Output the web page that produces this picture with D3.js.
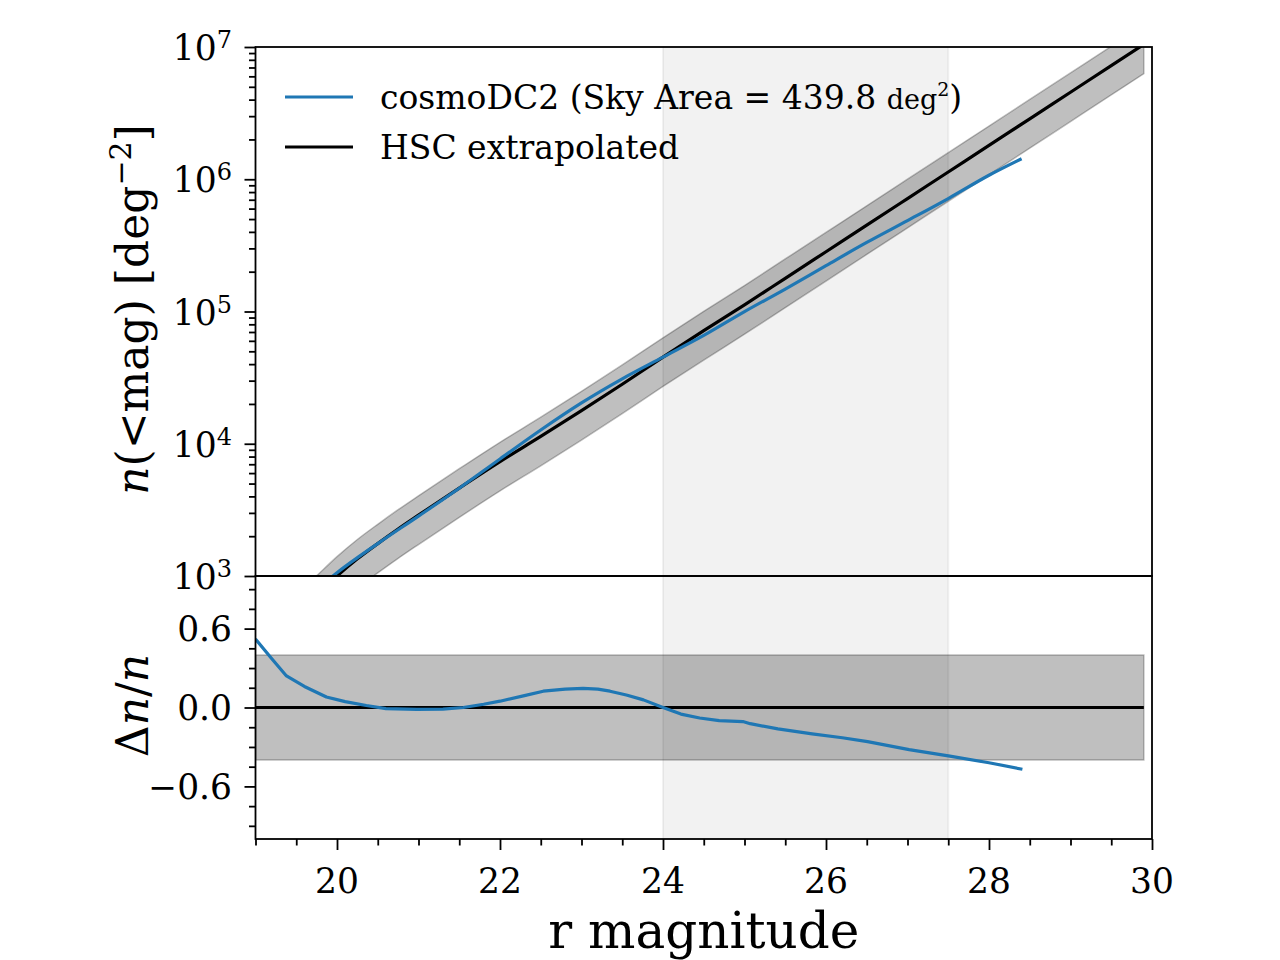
<!DOCTYPE html>
<html><head><meta charset="utf-8">
<script src="https://cdn.jsdelivr.net/npm/d3@7"></script>
<style>body{margin:0;background:#fff} text{font-family:"DejaVu Serif",serif;fill:#000}</style>
</head><body><svg id="c" width="1280" height="960"></svg>
<script>
// ---- data ----
const hscMag = [19.0,19.25,19.5,19.75,20.0,20.25,20.5,20.75,21.0,21.5,22.0,22.5,23.0,23.5,24.0,24.5,25.0,25.5,26.0,26.5,27.0,27.5,28.0,28.5,29.0,29.5,29.9];
const hscN   = [240,355,513,716,1000,1349,1758,2265,2884,4624,7328,11350,17780,28180,45190,71610,112200,178200,283100,449800,714500,1135000,1803000,2864000,4550000,7228000,10470000];
const hscFracErr = 0.4;
const cosmoMag = [19.0,19.5,19.75,20.0,20.5,21.0,21.5,22.0,22.5,23.0,23.5,24.0,24.5,25.0,25.5,26.0,26.5,27.0,27.5,28.0,28.4];
const cosmoN   = [365,611,794,1059,1758,2838,4613,7674,12710,20370,30970,45190,65900,99770,147900,222300,332700,486400,714500,1072000,1429000];
const deltaMag = [19.0,19.2,19.38,19.6,19.87,20.1,20.36,20.6,20.98,21.3,21.55,21.8,22.0,22.3,22.53,22.8,23.02,23.2,23.35,23.55,23.76,24.0,24.22,24.45,24.69,24.98,25.07,25.41,25.83,26.2,26.51,27.02,27.52,28.0,28.41];
const deltaVal = [0.52,0.37,0.24,0.16,0.08,0.045,0.015,-0.008,-0.015,-0.012,0.0,0.025,0.048,0.09,0.124,0.14,0.145,0.14,0.124,0.095,0.058,0.0,-0.05,-0.08,-0.10,-0.107,-0.123,-0.163,-0.20,-0.23,-0.26,-0.32,-0.37,-0.42,-0.47];
const spanRange = [24, 27.5];
const bandEnd = 29.9;
const xTicks = [20,22,24,26,28,30];
const topTicks = [1e3,1e4,1e5,1e6,1e7];
const topTickExp = ["3","4","5","6","7"];
const botTicks = [-0.6,0,0.6];
const botTickLabels = ["\u22120.6","0.0","0.6"];
const legendLabels = ["cosmoDC2 (Sky Area = 439.8 ", "HSC extrapolated"];

// ---- layout ----
const L=255.5, R=1152, T=47, M=576, B=839;
const blue="#1f77b4";
const svg=d3.select("#c");
const x=d3.scaleLinear([19,30],[L,R]);
const yT=d3.scaleLog([1e3,1e7],[M,T]);
const yB=d3.scaleLinear([-1,1],[B,M]);

const defs=svg.append("defs");
defs.append("clipPath").attr("id","cT").append("rect").attr("x",L).attr("y",T).attr("width",R-L).attr("height",M-T);
defs.append("clipPath").attr("id","cB").append("rect").attr("x",L).attr("y",M).attr("width",R-L).attr("height",B-M);

// ---- top panel ----
const gT=svg.append("g").attr("clip-path","url(#cT)");
const hsc=hscMag.map((m,i)=>({m,n:hscN[i]}));
gT.append("path").datum(hsc)
  .attr("d",d3.area().x(d=>x(d.m)).y0(d=>yT(d.n*(1-hscFracErr))).y1(d=>yT(d.n*(1+hscFracErr))).curve(d3.curveMonotoneX))
  .attr("fill","rgba(0,0,0,0.25)").attr("stroke","rgba(0,0,0,0.25)").attr("stroke-width",1.5);
gT.append("rect").attr("x",x(spanRange[0])).attr("width",x(spanRange[1])-x(spanRange[0])).attr("y",T-5).attr("height",M-T+10)
  .attr("fill","rgba(0,0,0,0.05)").attr("stroke","rgba(0,0,0,0.05)").attr("stroke-width",2);
gT.append("path").datum(hsc)
  .attr("d",d3.line().x(d=>x(d.m)).y(d=>yT(d.n)).curve(d3.curveMonotoneX))
  .attr("fill","none").attr("stroke","#000").attr("stroke-width",3.2);
gT.append("path").datum(cosmoMag.map((m,i)=>({m,n:cosmoN[i]})))
  .attr("d",d3.line().x(d=>x(d.m)).y(d=>yT(d.n)).curve(d3.curveMonotoneX))
  .attr("fill","none").attr("stroke",blue).attr("stroke-width",3.2);

// ---- bottom panel ----
const gB=svg.append("g").attr("clip-path","url(#cB)");
gB.append("path").datum([19,bandEnd])
  .attr("d",d3.area().x(d=>x(d)).y0(yB(-hscFracErr)).y1(yB(hscFracErr)))
  .attr("fill","rgba(0,0,0,0.25)").attr("stroke","rgba(0,0,0,0.25)").attr("stroke-width",1.5);
gB.append("rect").attr("x",x(spanRange[0])).attr("width",x(spanRange[1])-x(spanRange[0])).attr("y",M-5).attr("height",B-M+10)
  .attr("fill","rgba(0,0,0,0.05)").attr("stroke","rgba(0,0,0,0.05)").attr("stroke-width",2);
gB.append("path").datum([19,bandEnd])
  .attr("d",d3.line().x(d=>x(d)).y(yB(0)))
  .attr("fill","none").attr("stroke","#000").attr("stroke-width",3.2);
gB.append("path").datum(deltaMag.map((m,i)=>({m,v:deltaVal[i]})))
  .attr("d",d3.line().x(d=>x(d.m)).y(d=>yB(d.v)))
  .attr("fill","none").attr("stroke",blue).attr("stroke-width",3.2).attr("stroke-linejoin","round");

// ---- axes ----
function styleAxis(g){g.select(".domain").remove();g.selectAll("line").attr("stroke","#000").attr("stroke-width",1.8);g.selectAll("text").remove();}
const minorTop=[];[1e3,1e4,1e5,1e6].forEach(b=>{for(let k=2;k<10;k++)minorTop.push(b*k);});
svg.append("g").attr("transform",`translate(${L},0)`).call(d3.axisLeft(yT).tickValues(topTicks).tickSize(11)).call(styleAxis);
svg.append("g").attr("transform",`translate(${L},0)`).call(d3.axisLeft(yT).tickValues(minorTop).tickSize(6.5)).call(styleAxis);
const minorBot=d3.range(-6,7).map(k=>k*0.15).filter(v=>Math.abs(v%0.6)>1e-6 && Math.abs(Math.abs(v%0.6)-0.6)>1e-6);
svg.append("g").attr("transform",`translate(${L},0)`).call(d3.axisLeft(yB).tickValues(botTicks).tickSize(11)).call(styleAxis);
svg.append("g").attr("transform",`translate(${L},0)`).call(d3.axisLeft(yB).tickValues(minorBot).tickSize(6.5)).call(styleAxis);
const minorX=d3.range(19,30.01,0.5).filter(v=>!xTicks.includes(v));
svg.append("g").attr("transform",`translate(0,${B})`).call(d3.axisBottom(x).tickValues(xTicks).tickSize(11)).call(styleAxis);
svg.append("g").attr("transform",`translate(0,${B})`).call(d3.axisBottom(x).tickValues(minorX).tickSize(6.5)).call(styleAxis);

// frames
[[T,M],[M,B]].forEach(([a,b])=>svg.append("rect").attr("x",L).attr("y",a).attr("width",R-L).attr("height",b-a)
  .attr("fill","none").attr("stroke","#000").attr("stroke-width",1.8));

// tick labels
topTicks.forEach((v,i)=>{
  const t=svg.append("text").attr("x",232).attr("y",yT(v)+13).attr("text-anchor","end").attr("font-size",34.5);
  t.append("tspan").text("10");
  t.append("tspan").attr("dy",-12).attr("font-size",24).text(topTickExp[i]);
});
botTicks.forEach((v,i)=>svg.append("text").attr("x",232).attr("y",yB(v)+12.5).attr("text-anchor","end").attr("font-size",34.5).text(botTickLabels[i]));
xTicks.forEach(v=>svg.append("text").attr("x",x(v)).attr("y",893).attr("text-anchor","middle").attr("font-size",34.5).text(v));

// axis labels
svg.append("text").attr("x",(L+R)/2).attr("y",948).attr("text-anchor","middle").attr("font-size",50).text("r magnitude");
const yl=svg.append("text").attr("transform",`translate(148,${(T+M)/2-2}) rotate(-90)`).attr("text-anchor","middle").attr("font-size",44);
yl.append("tspan").attr("font-style","italic").text("n");
yl.append("tspan").text("(<mag) [deg");
yl.append("tspan").attr("dy",-17).attr("font-size",30).text("\u22122");
yl.append("tspan").attr("dy",17).text("]");
const bl=svg.append("text").attr("transform",`translate(148,${(M+B)/2-2}) rotate(-90)`).attr("text-anchor","middle").attr("font-size",44);
bl.append("tspan").text("\u0394");
bl.append("tspan").attr("font-style","italic").text("n");
bl.append("tspan").text("/");
bl.append("tspan").attr("font-style","italic").text("n");

// legend
const lg=svg.append("g");
[[blue,97],["#000",147]].forEach(([c,yy],i)=>{
  lg.append("line").attr("x1",285).attr("x2",353).attr("y1",yy).attr("y2",yy).attr("stroke",c).attr("stroke-width",3.2);
});
const l1=lg.append("text").attr("x",380).attr("y",97+12).attr("font-size",33);
l1.append("tspan").text(legendLabels[0]);
l1.append("tspan").attr("font-size",27).text("deg");
l1.append("tspan").attr("font-size",19).attr("dy",-13).text("2");
l1.append("tspan").attr("dy",13).text(")");
lg.append("text").attr("x",380).attr("y",147+12).attr("font-size",33).text(legendLabels[1]);
</script></body></html>
